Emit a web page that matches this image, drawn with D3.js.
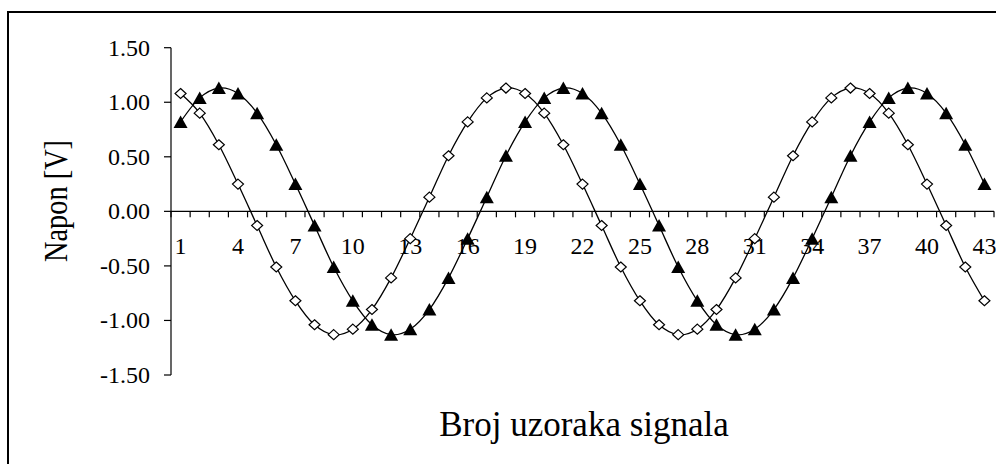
<!DOCTYPE html>
<html>
<head>
<meta charset="utf-8">
<script src="https://cdn.jsdelivr.net/npm/d3@7"></script>
<style>
  html, body { margin: 0; padding: 0; background: #fff; }
  svg { display: block; }
</style>
</head>
<body>
<div id="container"><svg></svg></div>
<script>
'use strict';

// samples 1..43
var samples = d3.range(1, 44);

// open diamonds
var seriesDiamond = [
  1.08, 0.90, 0.61, 0.25, -0.13, -0.51, -0.82, -1.04, -1.13, -1.08, -0.90, -0.61, -0.25, 0.13, 0.51, 0.82, 1.04, 1.13,
  1.08, 0.90, 0.61, 0.25, -0.13, -0.51, -0.82, -1.04, -1.13, -1.08, -0.90, -0.61, -0.25, 0.13, 0.51, 0.82, 1.04, 1.13,
  1.08, 0.90, 0.61, 0.25, -0.13, -0.51, -0.82
];

// filled triangles
var seriesTriangle = [
  0.82, 1.04, 1.13,
  1.08, 0.90, 0.61, 0.25, -0.13, -0.51, -0.82, -1.04, -1.13, -1.08, -0.90, -0.61, -0.25, 0.13, 0.51, 0.82, 1.04, 1.13,
  1.08, 0.90, 0.61, 0.25, -0.13, -0.51, -0.82, -1.04, -1.13, -1.08, -0.90, -0.61, -0.25, 0.13, 0.51, 0.82, 1.04, 1.13,
  1.08, 0.90, 0.61, 0.25
];

var xTickLabels = [1, 4, 7, 10, 13, 16, 19, 22, 25, 28, 31, 34, 37, 40, 43];
var yTicks = [-1.5, -1.0, -0.5, 0, 0.5, 1.0, 1.5];
var yTickLabels = ["-1.50", "-1.00", "-0.50", "0.00", "0.50", "1.00", "1.50"];

var xTitle = "Broj uzoraka signala";
var yTitle = "Napon [V]";

var width = 996;
var height = 464;
var serif = "Liberation Serif, DejaVu Serif, serif";

var svg = d3.select("svg").attr("width", width).attr("height", height);

// outer frame (right and bottom edges fall outside the picture)
svg.append("rect")
  .attr("x", 8).attr("y", 12)
  .attr("width", 1000).attr("height", 470)
  .attr("fill", "none").attr("stroke", "#000").attr("stroke-width", 2);

var x = d3.scaleBand().domain(samples).range([171, 994]);
var y = d3.scaleLinear().domain([-1.5, 1.5]).range([375, 47.7]);

function cx(d, i) { return x(samples[i]) + x.bandwidth() / 2; }

// y axis
var yAxis = svg.append("g");
yAxis.append("line")
  .attr("x1", 171).attr("x2", 171)
  .attr("y1", y(1.5)).attr("y2", y(-1.5))
  .attr("stroke", "#000").attr("stroke-width", 1.2);
yAxis.selectAll(".ytick").data(yTicks).enter().append("line")
  .attr("x1", 164).attr("x2", 171)
  .attr("y1", function (d) { return y(d); })
  .attr("y2", function (d) { return y(d); })
  .attr("stroke", "#000").attr("stroke-width", 1.2);
yAxis.selectAll(".ylab").data(yTicks).enter().append("text")
  .attr("x", 150)
  .attr("y", function (d) { return y(d) + 8; })
  .attr("text-anchor", "end")
  .style("font-family", serif)
  .style("font-size", "24px")
  .text(function (d, i) { return yTickLabels[i]; });

// x axis along zero
var xAxis = svg.append("g");
xAxis.append("line")
  .attr("x1", 171).attr("x2", 994)
  .attr("y1", y(0)).attr("y2", y(0))
  .attr("stroke", "#000").attr("stroke-width", 1.2);
xAxis.selectAll(".xtick").data(d3.range(0, 44)).enter().append("line")
  .attr("x1", function (d) { return 171 + d * x.step(); })
  .attr("x2", function (d) { return 171 + d * x.step(); })
  .attr("y1", y(0)).attr("y2", y(0) + 6)
  .attr("stroke", "#000").attr("stroke-width", 1.2);
xAxis.selectAll(".xlab").data(xTickLabels).enter().append("text")
  .attr("x", function (d) { return x(d) + x.bandwidth() / 2; })
  .attr("y", 254)
  .attr("text-anchor", "middle")
  .style("font-family", serif)
  .style("font-size", "24px")
  .text(function (d) { return d; });

// titles
svg.append("text")
  .attr("x", 584).attr("y", 436)
  .attr("text-anchor", "middle")
  .style("font-family", serif)
  .style("font-size", "35px")
  .text(xTitle);

svg.append("text")
  .attr("transform", "translate(67,201) rotate(-90) scale(0.86,1)")
  .attr("text-anchor", "middle")
  .style("font-family", serif)
  .style("font-size", "33px")
  .text(yTitle);

var line = d3.line()
  .x(cx)
  .y(function (d) { return y(d); })
  .curve(d3.curveCardinal.tension(0));

// triangle series
svg.append("path").datum(seriesTriangle)
  .attr("d", line)
  .attr("fill", "none").attr("stroke", "#000").attr("stroke-width", 1.3);

svg.append("g").selectAll("path").data(seriesTriangle).enter().append("path")
  .attr("d", "M0,-6.5L7,6L-7,6Z")
  .attr("transform", function (d, i) { return "translate(" + cx(d, i) + "," + y(d) + ")"; })
  .attr("fill", "#000");

// diamond series
svg.append("path").datum(seriesDiamond)
  .attr("d", line)
  .attr("fill", "none").attr("stroke", "#000").attr("stroke-width", 1.3);

svg.append("g").selectAll("path").data(seriesDiamond).enter().append("path")
  .attr("d", "M0,-5L5.5,0L0,5L-5.5,0Z")
  .attr("transform", function (d, i) { return "translate(" + cx(d, i) + "," + y(d) + ")"; })
  .attr("fill", "#fff").attr("stroke", "#000").attr("stroke-width", 1.2);
</script>
</body>
</html>
